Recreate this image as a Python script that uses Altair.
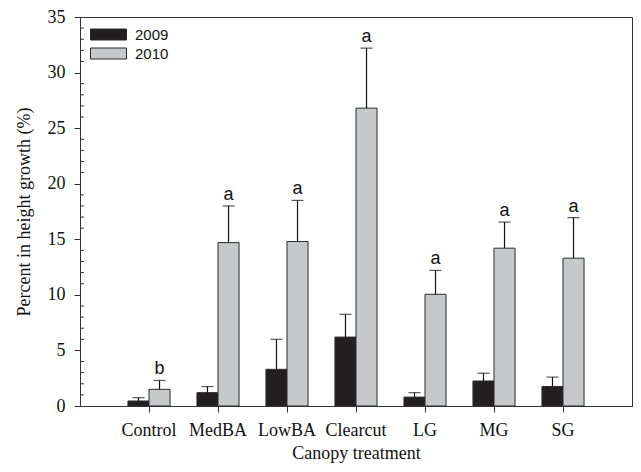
import altair as alt
import pandas as pd

categories = ["Control", "MedBA", "LowBA", "Clearcut", "LG", "MG", "SG"]
years = ["2009", "2010"]
mean_2009 = [0.45, 1.2, 3.3, 6.2, 0.8, 2.25, 1.75]
upper_2009 = [0.75, 1.75, 6.0, 8.25, 1.2, 2.95, 2.6]
mean_2010 = [1.5, 14.7, 14.8, 26.8, 10.05, 14.2, 13.3]
upper_2010 = [2.3, 18.0, 18.5, 32.2, 12.2, 16.55, 16.95]
letters_2010 = ["b", "a", "a", "a", "a", "a", "a"]
major_ticks = [0, 5, 10, 15, 20, 25, 30, 35]
minor_ticks = [v for v in range(1, 35) if v % 5 != 0]

rows = []
for i, c in enumerate(categories):
    rows.append(dict(cat=c, year="2009", mean=mean_2009[i], upper=upper_2009[i], letter=""))
    rows.append(dict(cat=c, year="2010", mean=mean_2010[i], upper=upper_2010[i], letter=letters_2010[i]))
df = pd.DataFrame(rows)

YTITLE = "Percent in height growth (%)"

x = alt.X("cat:N", sort=categories,
          scale=alt.Scale(paddingInner=0, paddingOuter=0.5),
          axis=alt.Axis(title="Canopy treatment", labelAngle=0, tickSize=6,
                        tickBand="center", labelPadding=9, titlePadding=5))
xoff = alt.XOffset("year:N", sort=years,
                   scale=alt.Scale(paddingInner=0, paddingOuter=0.64))
yscale = alt.Scale(domain=[0, 35], nice=False)

bars = alt.Chart(df).mark_bar(stroke="#2a2a2a", strokeWidth=1).encode(
    x=x, xOffset=xoff,
    y=alt.Y("mean:Q", scale=yscale, title=YTITLE,
            axis=alt.Axis(values=major_ticks, tickSize=6, labelPadding=9,
                          titlePadding=14, grid=False)),
    color=alt.Color("year:N", sort=years,
                    scale=alt.Scale(domain=years, range=["#231f20", "#c7c8ca"]),
                    legend=alt.Legend(title=None, orient="none", legendX=18, legendY=7,
                                      symbolType="M-1.8,-0.55H1.8V0.55H-1.8Z",
                                      symbolSize=400, symbolStrokeColor="#2a2a2a",
                                      symbolStrokeWidth=1, labelOffset=16,
                                      labelFont="Liberation Sans", labelFontSize=15,
                                      labelColor="#111", rowPadding=0, padding=0)),
)

rules = alt.Chart(df).mark_rule(color="#111", strokeWidth=1.2).encode(
    x=x, xOffset=xoff,
    y=alt.Y("mean:Q", scale=yscale, title=YTITLE), y2="upper:Q")

caps = alt.Chart(df).mark_tick(orient="horizontal", size=12, thickness=1.2, color="#111").encode(
    x=x, xOffset=xoff, y=alt.Y("upper:Q", scale=yscale, title=YTITLE))

labels = alt.Chart(df).transform_filter("datum.letter != ''").mark_text(
    baseline="alphabetic", dy=-6, font="Liberation Sans", fontSize=18, color="#111").encode(
    x=x, xOffset=xoff, y=alt.Y("upper:Q", scale=yscale, title=YTITLE), text="letter:N")

minor = alt.Chart(pd.DataFrame({"v": minor_ticks})).mark_rule(color="#333", strokeWidth=1).encode(
    y=alt.Y("v:Q", scale=yscale, title=YTITLE), x=alt.value(0), x2=alt.value(4))

chart = alt.layer(bars, rules, caps, labels, minor).properties(
    width=552, height=389,
    autosize=alt.AutoSizeParams(type="none"),
    padding={"left": 72, "top": 9, "right": 1, "bottom": 58},
).configure_view(stroke="#333", strokeWidth=1).configure_axis(
    domainColor="#333", tickColor="#333", labelColor="#111", titleColor="#111",
    labelFont="Liberation Serif", labelFontSize=18,
    titleFont="Liberation Serif", titleFontSize=18, titleFontWeight="normal",
)

chart.save("out.html", embed_options={"renderer": "svg", "actions": False})
